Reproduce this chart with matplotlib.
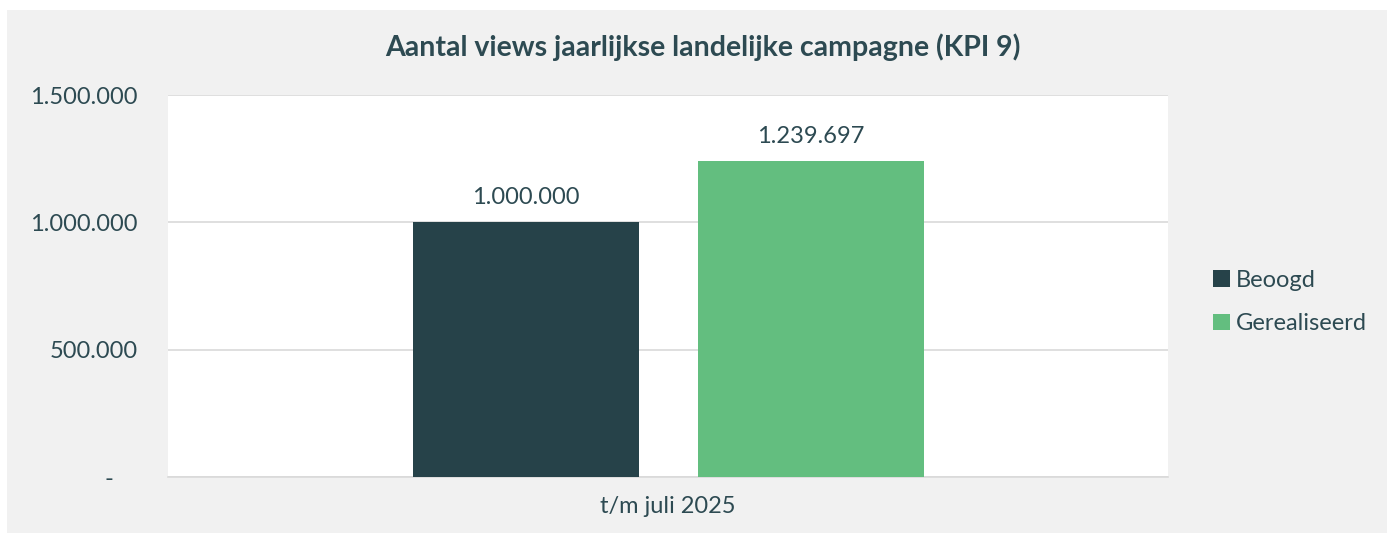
import matplotlib.pyplot as plt
from matplotlib.patches import Rectangle

# data
categorie = ["t/m juli 2025"]
reeksen = ["Beoogd", "Gerealiseerd"]
waarden = [1000000, 1239697]
kleuren = ["#264249", "#63be7f"]
yticks = [0, 500000, 1000000, 1500000]

tekst = "#2d4a52"
plt.rcParams['font.family'] = ['Lato', 'DejaVu Sans']


def nl_getal(v):
    if v == 0:
        return "-    "
    return f"{v:,.0f}".replace(",", ".")


fig = plt.figure(figsize=(13.87, 5.33), dpi=100, facecolor="white")
# grijze achtergrond met witte rand links/boven
fig.patches.append(Rectangle((7 / 1387, 0), 1, (533 - 10) / 533, transform=fig.transFigure,
                             facecolor="#f1f1f1", edgecolor="none", zorder=-10))

ax = fig.add_axes([168 / 1387, (533 - 477) / 533, 1000 / 1387, (477 - 95) / 533])
ax.set_facecolor("white")

breedte = 0.226
offsets = [-0.1425, 0.1425]
for i, naam in enumerate(reeksen):
    b = ax.bar(0 + offsets[i], waarden[i], width=breedte, color=kleuren[i], label=naam, zorder=3)
    ax.annotate(nl_getal(waarden[i]), (0 + offsets[i], waarden[i]), xytext=(0, 10),
                textcoords="offset points", ha="center", va="bottom", fontsize=17, color=tekst)

ax.set_xlim(-0.5, 0.5)
ax.set_ylim(0, 1500000)
ax.set_xticks([0])
ax.set_xticklabels(categorie)
ax.set_yticks(yticks)
ax.set_yticklabels([nl_getal(v) for v in yticks])
ax.tick_params(axis="both", length=0, labelsize=17, labelcolor=tekst)
ax.tick_params(axis="y", pad=22)
ax.tick_params(axis="x", pad=14)
ax.grid(axis="y", color="#d9d9d9", linewidth=1.2, zorder=0)
for s in ["top", "right", "left"]:
    ax.spines[s].set_visible(False)
ax.spines["bottom"].set_color("#d9d9d9")
ax.spines["bottom"].set_linewidth(1.2)

fig.text(703 / 1387, 1 - 47 / 533, "Aantal views jaarlijkse landelijke campagne (KPI 9)",
         ha="center", va="center", fontsize=20.5, fontweight="bold", color=tekst)

leg = ax.legend(loc="center left", bbox_to_anchor=(1192 / 1387, 1 - 302 / 533),
                bbox_transform=fig.transFigure, frameon=False, fontsize=17,
                handlelength=0.7, handleheight=0.7, handletextpad=0.25, labelspacing=0.95)
for t in leg.get_texts():
    t.set_color(tekst)

fig.savefig("out.png", dpi=100, facecolor=fig.get_facecolor())
